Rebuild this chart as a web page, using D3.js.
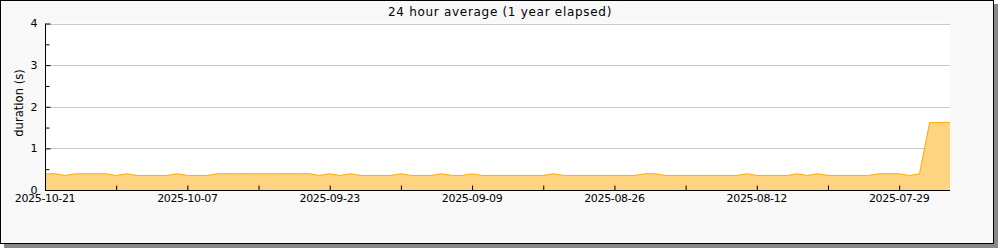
<!DOCTYPE html>
<html>
<head>
<meta charset="utf-8">
<script src="https://cdn.jsdelivr.net/npm/d3@7"></script>
<style>
  html, body { margin: 0; padding: 0; background: #ffffff; }
  svg { display: block; font-family: "DejaVu Sans", sans-serif; }
</style>
</head>
<body>
<svg id="chart" width="1000" height="250"></svg>
<script>
// ---- data ----
const titleText = "24 hour average (1 year elapsed)";
const yLabelText = "duration (s)";
const startDate = "2025-10-21";   // newest day, shown on the left
const endDate = "2025-07-24";     // oldest day, right edge
// daily 24h average durations (seconds), newest first
const durations = [
  0.39, 0.39, 0.35, 0.39, 0.39, 0.39, 0.39, 0.35, 0.39, 0.35,
  0.35, 0.35, 0.35, 0.39, 0.35, 0.35, 0.35, 0.39, 0.39, 0.39,
  0.39, 0.39, 0.39, 0.39, 0.39, 0.39, 0.39, 0.35, 0.39, 0.35,
  0.39, 0.35, 0.35, 0.35, 0.35, 0.39, 0.35, 0.35, 0.35, 0.39,
  0.35, 0.35, 0.39, 0.35, 0.35, 0.35, 0.35, 0.35, 0.35, 0.35,
  0.39, 0.35, 0.35, 0.35, 0.35, 0.35, 0.35, 0.35, 0.35, 0.39,
  0.39, 0.35, 0.35, 0.35, 0.35, 0.35, 0.35, 0.35, 0.35, 0.39,
  0.35, 0.35, 0.35, 0.35, 0.39, 0.35, 0.39, 0.35, 0.35, 0.35,
  0.35, 0.35, 0.39, 0.39, 0.39, 0.35, 0.39, 1.62, 1.62, 1.62
];
const yTicks = [0, 1, 2, 3, 4];
const yMinorTicks = [0.5, 1.5, 2.5, 3.5];
const xTickLabels = ["2025-10-21", "2025-10-07", "2025-09-23", "2025-09-09", "2025-08-26", "2025-08-12", "2025-07-29"];
const xMinorTickLabels = ["2025-10-14", "2025-09-30", "2025-09-16", "2025-09-02", "2025-08-19", "2025-08-05"];

// ---- layout ----
const parse = d3.utcParse("%Y-%m-%d");
const fmt = d3.utcFormat("%Y-%m-%d");
const start = parse(startDate);
const data = durations.map((v, i) => ({ date: d3.utcDay.offset(start, -i), value: v }));

const svg = d3.select("#chart");
const M = { left: 45, right: 950, top: 23.5, bottom: 190 };

// background frame with shadow
svg.append("rect").attr("x", 4).attr("y", 4).attr("width", 994).attr("height", 244).attr("fill", "#888");
svg.append("rect").attr("x", 0.5).attr("y", 0.5).attr("width", 993).attr("height", 243)
  .attr("fill", "#f8f8f8").attr("stroke", "#000").attr("stroke-width", 1);
svg.append("rect").attr("x", M.left).attr("y", M.top).attr("width", M.right - M.left).attr("height", M.bottom - M.top)
  .attr("fill", "#ffffff");

const x = d3.scaleUtc().domain([start, parse(endDate)]).range([M.left, M.right]);
const y = d3.scaleLinear().domain([0, 4]).range([M.bottom, M.top]);

// gridlines
svg.append("g").selectAll("line").data(yTicks.filter(d => d > 0)).join("line")
  .attr("x1", M.left).attr("x2", M.right)
  .attr("y1", d => Math.round(y(d)) + 0.5).attr("y2", d => Math.round(y(d)) + 0.5)
  .attr("stroke", "#c8c8c8").attr("stroke-width", 1);

// area + line
const area = d3.area().x(d => x(d.date)).y0(y(0)).y1(d => y(d.value));
const line = d3.line().x(d => x(d.date)).y(d => y(d.value));
svg.append("path").datum(data).attr("d", area).attr("fill", "#ffd480");
svg.append("path").datum(data).attr("d", line).attr("fill", "none").attr("stroke", "#ffaa00").attr("stroke-width", 1);

// y axis
const yAxis = d3.axisRight(y).tickValues(yTicks).tickSize(5).tickFormat("");
const gy = svg.append("g").attr("transform", `translate(${M.left + 0.5},0)`).call(yAxis);
gy.select(".domain").attr("d", `M0,${M.top}V${M.bottom}`).attr("stroke", "#000");
gy.selectAll(".tick line").attr("stroke", "#000");
svg.append("g").attr("transform", `translate(${M.left + 0.5},0)`)
  .call(d3.axisRight(y).tickValues(yMinorTicks).tickSize(4).tickFormat(""))
  .call(g => g.select(".domain").remove())
  .selectAll(".tick line").attr("stroke", "#000");
svg.append("g").selectAll("text").data(yTicks).join("text")
  .attr("x", 37.5).attr("y", d => y(d) + 3.8).attr("text-anchor", "end")
  .attr("font-size", 11).attr("fill", "#000").text(d => d);

// x axis
const majorDates = xTickLabels.map(parse);
const minorDates = xMinorTickLabels.map(parse);
const gx = svg.append("g").attr("transform", `translate(0,${M.bottom + 0.5})`)
  .call(d3.axisTop(x).tickValues(majorDates.concat(minorDates)).tickSize(5).tickFormat(""));
gx.select(".domain").attr("d", `M${M.left},0H${M.right}`).attr("stroke", "#000");
gx.selectAll(".tick line").attr("stroke", "#000");
svg.append("g").selectAll("text").data(majorDates).join("text")
  .attr("x", d => x(d)).attr("y", 201.5).attr("text-anchor", "middle")
  .attr("font-size", 11).attr("letter-spacing", -0.35).attr("fill", "#000").text(d => fmt(d));

// title & y label
svg.append("text").attr("x", 500).attr("y", 15.8).attr("text-anchor", "middle")
  .attr("font-size", 12).attr("letter-spacing", 0.7).attr("fill", "#000").text(titleText);
svg.append("text").attr("transform", `translate(22.5,103) rotate(-90)`)
  .attr("text-anchor", "middle").attr("font-size", 11.6).attr("fill", "#000").text(yLabelText);
</script>
</body>
</html>
